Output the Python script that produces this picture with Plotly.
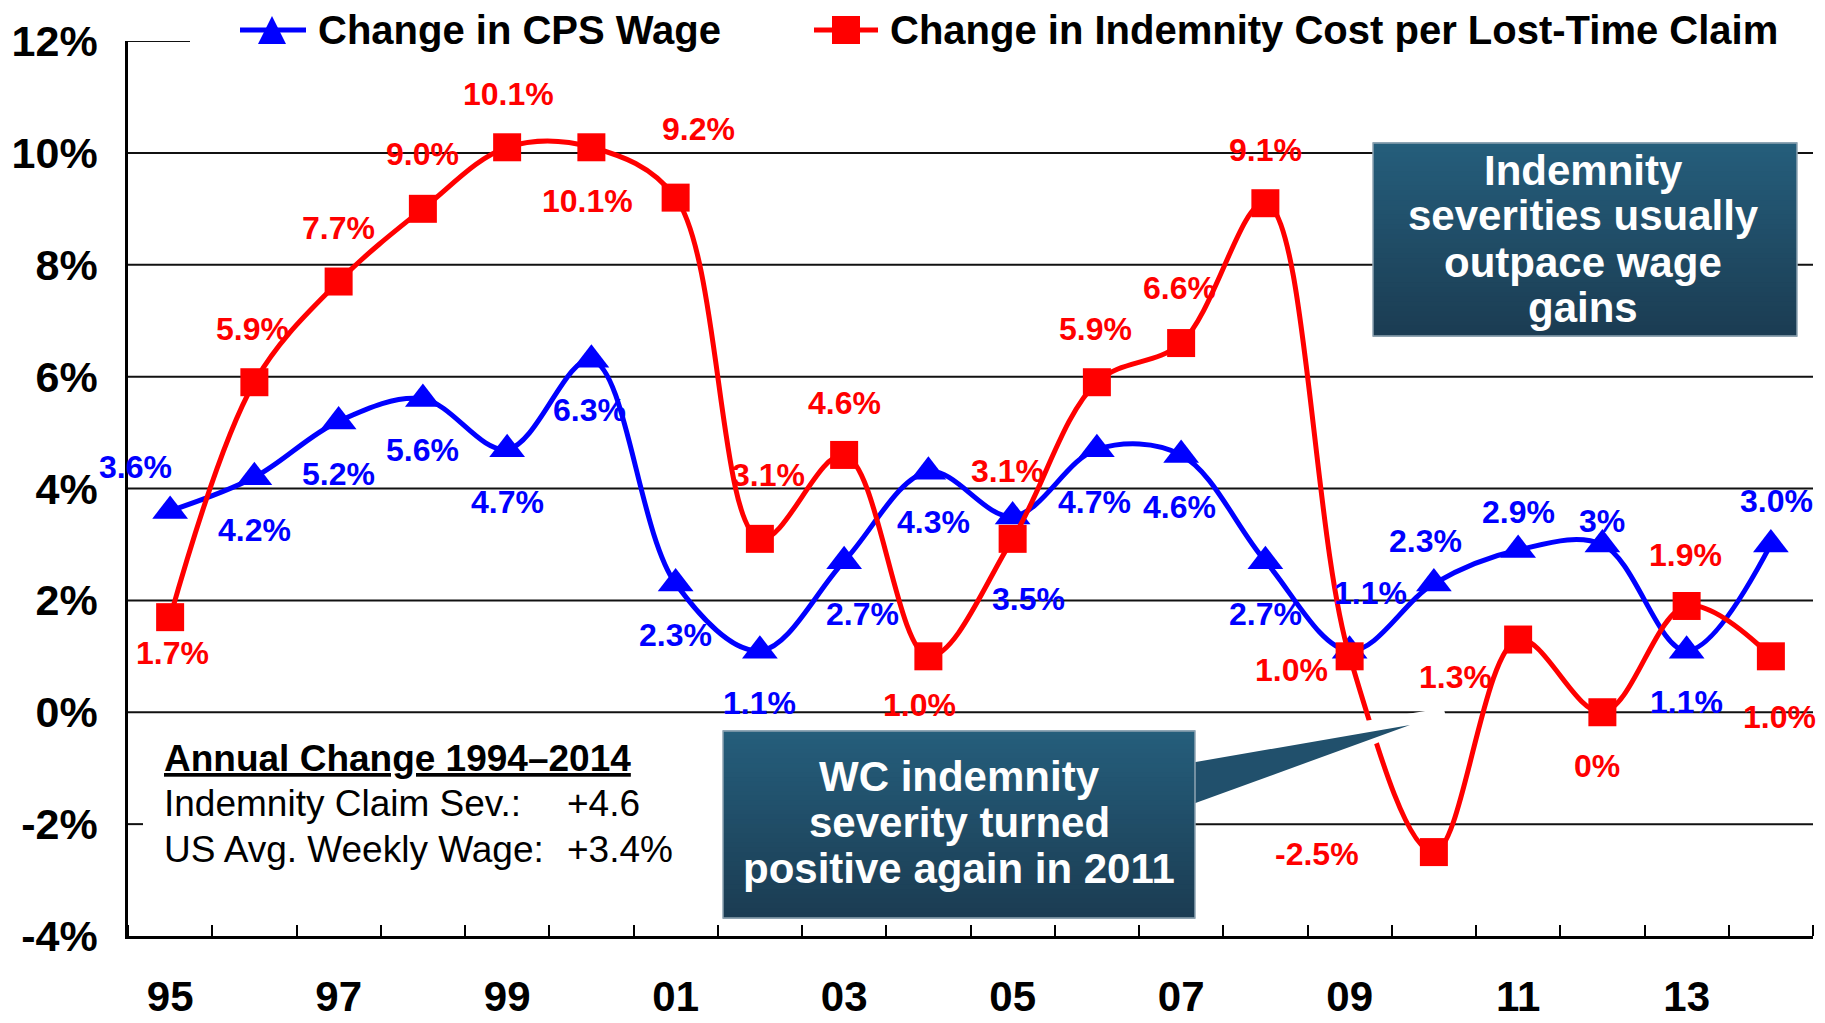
import plotly.graph_objects as go

# ---- data -------------------------------------------------------------
years = list(range(1995, 2015))
cps_wage = [3.6, 4.2, 5.2, 5.6, 4.7, 6.3, 2.3, 1.1, 2.7, 4.3,
            3.5, 4.7, 4.6, 2.7, 1.1, 2.3, 2.9, 3.0, 1.1, 3.0]
indemnity_cost = [1.7, 5.9, 7.7, 9.0, 10.1, 10.1, 9.2, 3.1, 4.6, 1.0,
                  3.1, 5.9, 6.6, 9.1, 1.0, -2.5, 1.3, 0.0, 1.9, 1.0]
cps_labels = ["3.6%", "4.2%", "5.2%", "5.6%", "4.7%", "6.3%", "2.3%", "1.1%", "2.7%", "4.3%",
              "3.5%", "4.7%", "4.6%", "2.7%", "1.1%", "2.3%", "2.9%", "3%", "1.1%", "3.0%"]
indemnity_labels = ["1.7%", "5.9%", "7.7%", "9.0%", "10.1%", "10.1%", "9.2%", "3.1%", "4.6%", "1.0%",
                    "3.1%", "5.9%", "6.6%", "9.1%", "1.0%", "-2.5%", "1.3%", "0%", "1.9%", "1.0%"]
x_tick_years = [1995, 1997, 1999, 2001, 2003, 2005, 2007, 2009, 2011, 2013]
x_tick_text = ["95", "97", "99", "01", "03", "05", "07", "09", "11", "13"]
y_tick_values = [-4, -2, 0, 2, 4, 6, 8, 10, 12]
y_tick_text = ["-4%", "-2%", "0%", "2%", "4%", "6%", "8%", "10%", "12%"]

# ---- styling ----------------------------------------------------------
FONT = "Liberation Sans, Arial, sans-serif"
BLUE = "#0000FF"
RED = "#FF0000"
W, H = 1825, 1023
PLOT_L, PLOT_R, PLOT_T, PLOT_B = 128, 1813, 41, 936
S = 1825 / 1568  # offsets below are measured on a 1568-wide layout

# label offsets (dx, dy) in layout px, dy positive = downward
cps_offsets = [(-30, -38), (0, 45), (0, 45), (0, 44), (0, 45), (-2, 43), (0, 44), (0, 45), (16, 45), (4, 43),
               (14, 71), (-2, 45), (-1, 45), (0, 45), (18, -50), (-7, -37), (0, -33), (0, -20), (0, 44), (5, -37)]
ind_offsets = [(2, 31), (-2, -46), (0, -46), (0, -47), (1, -46), (-3, 46), (20, -59), (7, -55), (0, -45), (-8, 42),
               (-4, -58), (-1, -46), (-1, -47), (0, -46), (-50, 12), (-100, 2), (-54, 32), (-5, 46), (-1, -44), (7, 52)]


def xp(px):
    return (px - PLOT_L) / (PLOT_R - PLOT_L)


def yp(py):
    return (PLOT_B - py) / (PLOT_B - PLOT_T)


fig = go.Figure()

fig.add_trace(go.Scatter(
    x=years, y=cps_wage, name="Change in CPS Wage", mode="lines+markers",
    line=dict(color=BLUE, width=5, shape="spline", smoothing=1.0),
    marker=dict(symbol="triangle-up", size=31, color=BLUE),
    showlegend=False, hoverinfo="x+y"))
fig.add_trace(go.Scatter(
    x=years, y=indemnity_cost, name="Change in Indemnity Cost per Lost-Time Claim", mode="lines+markers",
    line=dict(color=RED, width=5, shape="spline", smoothing=1.0),
    marker=dict(symbol="square", size=28, color=RED),
    showlegend=False, hoverinfo="x+y"))

shapes = []
annotations = []

# horizontal gridlines (segments hidden behind legend / text block are skipped)
for v in y_tick_values:
    if v == -4:
        continue
    if v == 12:
        segs = [(PLOT_L, 190)]
    elif v == -2:
        segs = [(PLOT_L, 143), (723, PLOT_R)]
    else:
        segs = [(PLOT_L, PLOT_R)]
    for a, b in segs:
        shapes.append(dict(type="line", xref="paper", yref="y", x0=xp(a), x1=xp(b), y0=v, y1=v,
                           line=dict(color="#111111", width=2), layer="below"))

# data labels
for yr, v, txt, (dx, dy) in zip(years, cps_wage, cps_labels, cps_offsets):
    annotations.append(dict(x=yr, y=v, xref="x", yref="y", text=txt, showarrow=False,
                            xshift=dx * S, yshift=-dy * S,
                            font=dict(family=FONT, size=32, color=BLUE, weight="bold")))
for yr, v, txt, (dx, dy) in zip(years, indemnity_cost, indemnity_labels, ind_offsets):
    annotations.append(dict(x=yr, y=v, xref="x", yref="y", text=txt, showarrow=False,
                            xshift=dx * S, yshift=-dy * S,
                            font=dict(family=FONT, size=32, color=RED, weight="bold")))


# gradient-filled callout boxes
def gradient_box(x0, y0, x1, y1, n=40, top=(37, 94, 124), bottom=(27, 60, 82)):
    step = (y1 - y0) / n
    for i in range(n):
        f = (i + 0.5) / n
        c = tuple(round(top[k] + (bottom[k] - top[k]) * f) for k in range(3))
        shapes.append(dict(type="rect", xref="paper", yref="paper",
                           x0=xp(x0), x1=xp(x1), y0=yp(y0 + i * step - 0.6), y1=yp(y0 + (i + 1) * step + 0.6),
                           fillcolor="rgb(%d,%d,%d)" % c, line=dict(width=0), layer="above"))
    shapes.append(dict(type="rect", xref="paper", yref="paper",
                       x0=xp(x0), x1=xp(x1), y0=yp(y0), y1=yp(y1),
                       fillcolor="rgba(0,0,0,0)", line=dict(color="#8ea4b3", width=1.5), layer="above"))


def path(points):
    return "M " + " L ".join("%.5f,%.5f" % (xp(a), yp(b)) for a, b in points) + " Z"


# callout tail pointing to 2011 (white halo first, then the tail)
shapes.append(dict(type="path", xref="paper", yref="paper",
                   path=path([(1195, 752), (1444, 711), (1195, 818)]),
                   fillcolor="white", line=dict(color="white", width=6), layer="above"))
shapes.append(dict(type="path", xref="paper", yref="paper",
                   path=path([(1190, 763), (1410, 725), (1190, 805)]),
                   fillcolor="rgb(33,80,108)", line=dict(width=0), layer="above"))

gradient_box(1373, 143, 1797, 336)
gradient_box(723, 731, 1195, 918)

box_font = dict(family=FONT, size=42, color="white", weight="bold")
for txt, cy in zip(["Indemnity", "severities usually", "outpace wage", "gains"], [171, 216, 262, 308]):
    annotations.append(dict(x=xp(1583), y=yp(cy), xref="paper", yref="paper", text=txt,
                            showarrow=False, xanchor="center", yanchor="middle", font=box_font))
for txt, cy in zip(["WC indemnity", "severity turned", "positive again in 2011"], [776, 822, 868]):
    annotations.append(dict(x=xp(959), y=yp(cy), xref="paper", yref="paper", text=txt,
                            showarrow=False, xanchor="center", yanchor="middle", font=box_font))

# summary text block
annotations.append(dict(x=xp(162), y=yp(759), xref="paper", yref="paper",
                        text="<u>Annual Change 1994\u20132014</u>", showarrow=False,
                        xanchor="left", yanchor="middle",
                        font=dict(family=FONT, size=37, color="black", weight="bold")))
for txt, val, cy in [("Indemnity Claim Sev.:", "+4.6", 804), ("US Avg. Weekly Wage:", "+3.4%", 849)]:
    annotations.append(dict(x=xp(162), y=yp(cy), xref="paper", yref="paper", text=txt,
                            showarrow=False, xanchor="left", yanchor="middle",
                            font=dict(family=FONT, size=37, color="black")))
    annotations.append(dict(x=xp(565), y=yp(cy), xref="paper", yref="paper", text=val,
                            showarrow=False, xanchor="left", yanchor="middle",
                            font=dict(family=FONT, size=37, color="black")))

# legend
LEG_Y = 30
legend_font = dict(family=FONT, size=40, color="black", weight="bold")
shapes.append(dict(type="line", xref="paper", yref="paper", x0=xp(240), x1=xp(306), y0=yp(LEG_Y), y1=yp(LEG_Y),
                   line=dict(color=BLUE, width=5), layer="above"))
shapes.append(dict(type="path", xref="paper", yref="paper",
                   path=path([(258, 44), (286, 44), (272, 16)]), fillcolor=BLUE, line=dict(width=0), layer="above"))
annotations.append(dict(x=xp(316), y=yp(LEG_Y), xref="paper", yref="paper", text="Change in CPS Wage",
                        showarrow=False, xanchor="left", yanchor="middle", font=legend_font))
shapes.append(dict(type="line", xref="paper", yref="paper", x0=xp(814), x1=xp(878), y0=yp(LEG_Y), y1=yp(LEG_Y),
                   line=dict(color=RED, width=5), layer="above"))
shapes.append(dict(type="rect", xref="paper", yref="paper", x0=xp(832), x1=xp(860), y0=yp(LEG_Y + 14),
                   y1=yp(LEG_Y - 14), fillcolor=RED, line=dict(width=0), layer="above"))
annotations.append(dict(x=xp(888), y=yp(LEG_Y), xref="paper", yref="paper",
                        text="Change in Indemnity Cost per Lost-Time Claim",
                        showarrow=False, xanchor="left", yanchor="middle", font=legend_font))

fig.update_layout(
    width=W, height=H,
    margin=dict(l=PLOT_L, r=W - PLOT_R, t=PLOT_T, b=H - PLOT_B, autoexpand=False),
    paper_bgcolor="white", plot_bgcolor="white",
    showlegend=False,
    shapes=shapes, annotations=annotations,
    font=dict(family=FONT, color="black"),
    xaxis=dict(range=[1994.5, 2014.5], tickmode="array", tickvals=x_tick_years, ticktext=x_tick_text,
               ticks="", showgrid=False, zeroline=False, showline=True, linecolor="black", linewidth=2.5,
               tickfont=dict(family=FONT, size=42, color="black", weight="bold"), ticklabelstandoff=22,
               minor=dict(tick0=1994.5, dtick=1, ticks="inside", ticklen=11, tickwidth=2, tickcolor="black",
                          showgrid=False),
               fixedrange=True),
    yaxis=dict(range=[-4, 12], tickmode="array", tickvals=y_tick_values, ticktext=y_tick_text,
               ticks="", showgrid=False, zeroline=False, showline=True, linecolor="black", linewidth=2.5,
               tickfont=dict(family=FONT, size=43, color="black", weight="bold"), ticklabelstandoff=19,
               fixedrange=True),
)

fig.write_html("out.html")
